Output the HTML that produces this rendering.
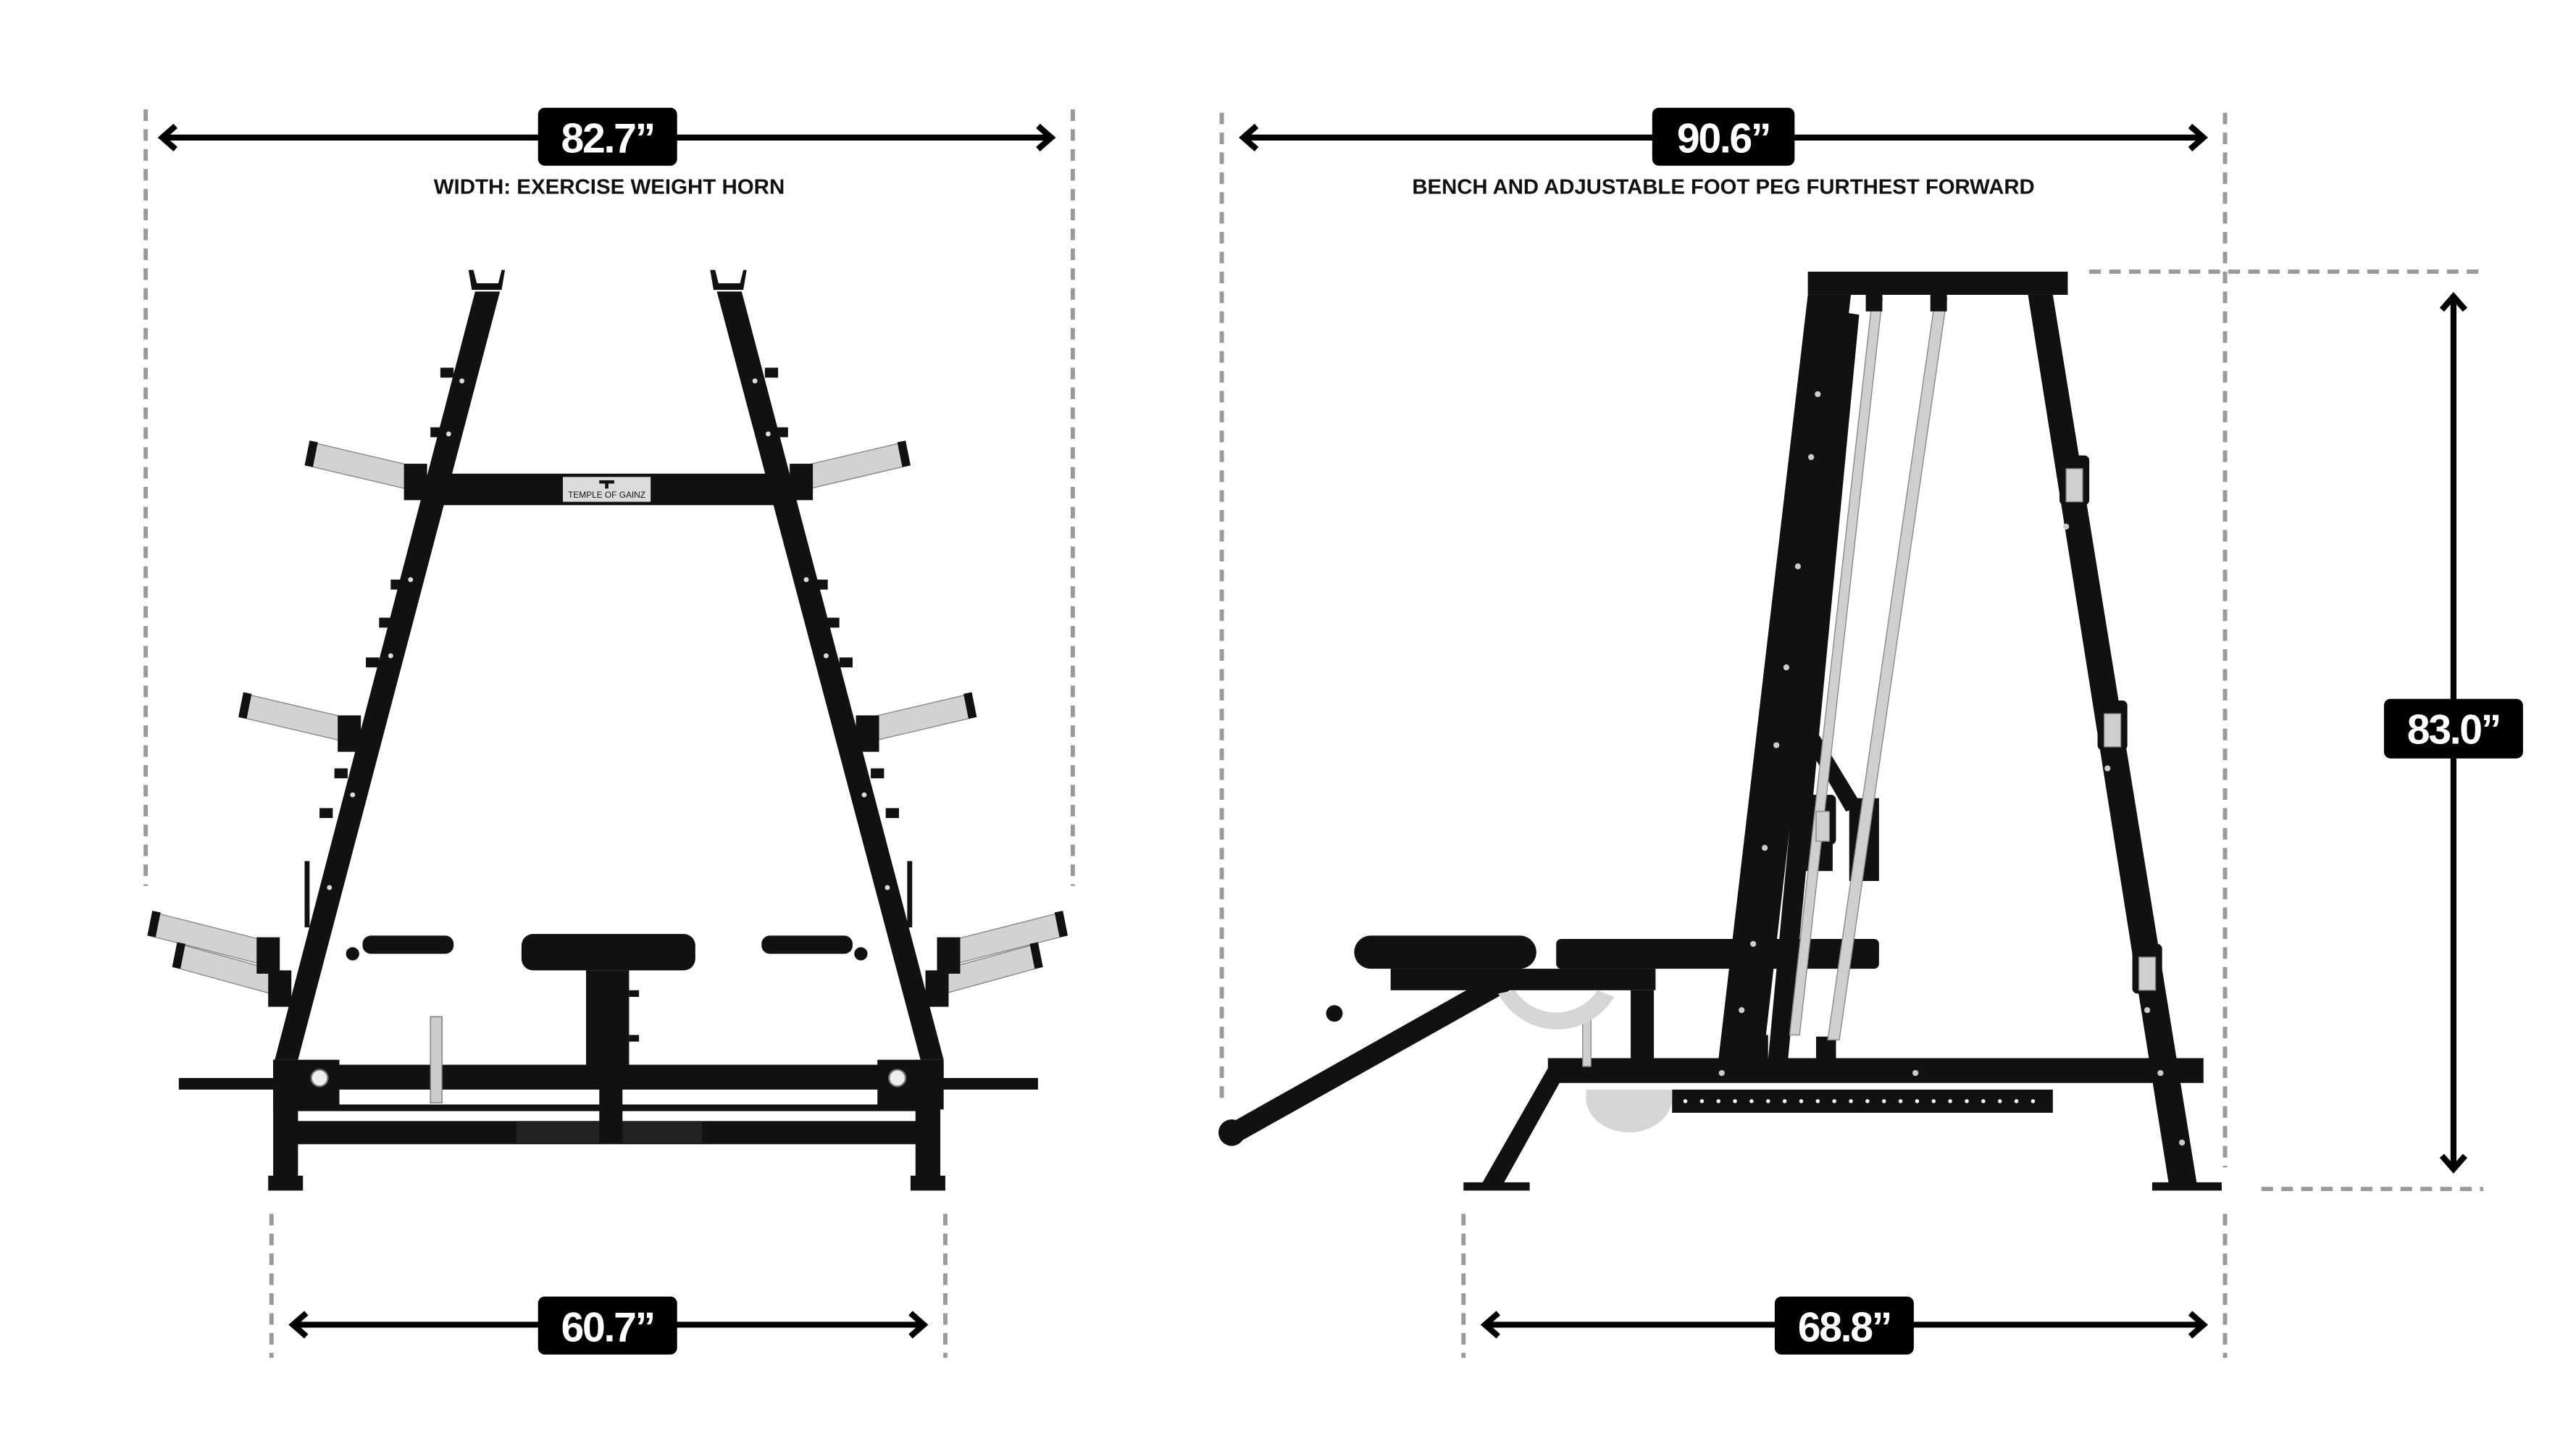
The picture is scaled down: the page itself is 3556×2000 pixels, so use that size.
<!DOCTYPE html>
<html><head><meta charset="utf-8"><style>
html,body{margin:0;padding:0;background:#fff;}
svg{display:block;}
.t{font-family:"Liberation Sans",sans-serif;font-weight:bold;}
</style></head><body>
<svg width="3556" height="2000" viewBox="0 0 1556 875" xmlns="http://www.w3.org/2000/svg">
<rect width="1556" height="875" fill="#fff"/>
<g stroke="#9a9a9a" stroke-width="2.6" stroke-dasharray="7 5" fill="none">
<line x1="88" y1="66" x2="88" y2="535"/>
<line x1="648" y1="66" x2="648" y2="535"/>
<line x1="164" y1="733" x2="164" y2="820"/>
<line x1="571" y1="733" x2="571" y2="820"/>
<line x1="738" y1="68" x2="738" y2="668"/>
<line x1="1344" y1="68" x2="1344" y2="705"/>
<line x1="884" y1="733" x2="884" y2="820"/>
<line x1="1344" y1="733" x2="1344" y2="820"/>
<line x1="1262" y1="164" x2="1500" y2="164"/>
<line x1="1366" y1="718" x2="1500" y2="718"/>
</g>
<g stroke="#000" stroke-width="3.6" fill="none" stroke-linecap="butt">
<line x1="98" y1="83" x2="635" y2="83"/>
<polyline points="106,76 98,83 106,90"/><polyline points="627,76 635,83 627,90"/>
<line x1="177" y1="800" x2="558" y2="800"/>
<polyline points="185,793 177,800 185,807"/><polyline points="550,793 558,800 550,807"/>
<line x1="751" y1="83" x2="1331" y2="83"/>
<polyline points="759,76 751,83 759,90"/><polyline points="1323,76 1331,83 1323,90"/>
<line x1="897" y1="800" x2="1331" y2="800"/>
<polyline points="905,793 897,800 905,807"/><polyline points="1323,793 1331,800 1323,807"/>
<line x1="1482" y1="179" x2="1482" y2="706"/>
<polyline points="1475,187 1482,179 1489,187"/><polyline points="1475,698 1482,706 1489,698"/>
</g>
<g fill="#000">
<rect x="325" y="65" width="84" height="35" rx="4"/>
<rect x="325" y="783" width="84" height="35" rx="4"/>
<rect x="998" y="65" width="86" height="35" rx="4"/>
<rect x="1072" y="783" width="84" height="35" rx="4"/>
<rect x="1440" y="422" width="84" height="36" rx="4"/>
</g>
<g class="t" fill="#fff" font-size="25" text-anchor="middle" letter-spacing="-1">
<text x="367" y="92">82.7”</text>
<text x="367" y="810">60.7”</text>
<text x="1041" y="92">90.6”</text>
<text x="1114" y="810">68.8”</text>
<text x="1482" y="449">83.0”</text>
</g>
<g class="t" fill="#111" font-size="12.5" text-anchor="middle">
<text x="368" y="117" textLength="212" lengthAdjust="spacingAndGlyphs">WIDTH: EXERCISE WEIGHT HORN</text>
<text x="1041" y="117" textLength="376" lengthAdjust="spacingAndGlyphs">BENCH AND ADJUSTABLE FOOT PEG FURTHEST FORWARD</text>
</g>

<!-- LEFT MACHINE -->
<g>
<!-- horns light -->
<g fill="#d2d2d2" stroke="#888" stroke-width="0.6">
<polygon points="188,267 252,282 249,296 185,281"/>
<polygon points="546,267 482,282 485,296 549,281"/>
<polygon points="148,419 212,434 209,448 145,433"/>
<polygon points="586,419 522,434 525,448 589,433"/>
<polygon points="93,551 160,568 157,582 90,565"/>
<polygon points="108,570 170,587 167,601 105,584"/>
<polygon points="641,551 574,568 577,582 644,565"/>
<polygon points="626,570 564,587 567,601 629,584"/>
</g>
<g fill="#111">
<polygon points="187,266 192,267 189,282 184,281"/>
<polygon points="547,266 542,267 545,282 550,281"/>
<polygon points="147,418 152,419 149,434 144,433"/>
<polygon points="587,418 582,419 585,434 590,433"/>
<polygon points="92,550 97,551 94,566 89,565"/>
<polygon points="107,569 112,570 109,585 104,584"/>
<polygon points="642,550 637,551 640,566 645,565"/>
<polygon points="627,569 622,570 625,585 630,584"/>
<!-- horn collars -->
<rect x="244" y="280" width="14" height="22"/><rect x="477" y="280" width="14" height="22"/>
<rect x="204" y="432" width="14" height="22"/><rect x="517" y="432" width="14" height="22"/>
<rect x="155" y="566" width="14" height="22"/><rect x="566" y="566" width="14" height="22"/>
<rect x="162" y="586" width="14" height="22"/><rect x="559" y="586" width="14" height="22"/>
<!-- rails -->
<polygon points="287,176 302,176 180,640 166,640"/>
<polygon points="433,176 448,176 570,640 556,640"/>
<!-- top caps -->
<path d="M286,163 L288,171 L301,171 L303,163 L305,163 L303,175 L285,175 L283,163Z"/>
<path d="M432,163 L434,171 L447,171 L449,163 L451,163 L449,175 L431,175 L429,163Z"/>
<!-- crossbar -->
<rect x="268" y="286" width="200" height="19"/>
<!-- pegs -->
<rect x="266" y="222" width="8" height="6"/><rect x="260" y="258" width="8" height="6"/>
<rect x="236" y="350" width="8" height="6"/><rect x="229" y="373" width="8" height="6"/>
<rect x="221" y="397" width="8" height="6"/><rect x="202" y="464" width="8" height="6"/>
<rect x="193" y="488" width="8" height="6"/>
<rect x="462" y="222" width="8" height="6"/><rect x="468" y="258" width="8" height="6"/>
<rect x="492" y="350" width="8" height="6"/><rect x="499" y="373" width="8" height="6"/>
<rect x="507" y="397" width="8" height="6"/><rect x="526" y="464" width="8" height="6"/>
<rect x="535" y="488" width="8" height="6"/>
<rect x="184" y="520" width="3" height="40"/><rect x="548" y="520" width="3" height="40"/>
<!-- handles -->
<rect x="219" y="565" width="55" height="11" rx="5"/>
<rect x="460" y="565" width="55" height="11" rx="5"/>
<circle cx="213" cy="576" r="4"/><circle cx="520" cy="576" r="4"/>
<!-- seat -->
<rect x="315" y="564" width="105" height="22" rx="7"/>
<rect x="354" y="586" width="26" height="60"/>
<rect x="380" y="598" width="6" height="4"/><rect x="380" y="625" width="6" height="4"/>
<!-- base -->
<rect x="108" y="651" width="519" height="7"/>
<rect x="165" y="643" width="405" height="14"/>
<rect x="165" y="640" width="40" height="30"/>
<rect x="530" y="640" width="40" height="30"/>
<rect x="180" y="667" width="375" height="4"/>
<rect x="172" y="677" width="390" height="14"/>
<rect x="165" y="640" width="15" height="78"/>
<rect x="553" y="640" width="15" height="78"/>
<rect x="162" y="710" width="21" height="9"/>
<rect x="550" y="710" width="21" height="9"/>
<rect x="362" y="645" width="14" height="45"/>
</g>
<rect x="340" y="288" width="53" height="15" fill="#dcdcdc"/>
<text x="366.5" y="300.5" font-family="Liberation Sans,sans-serif" font-size="5.2" text-anchor="middle" fill="#111">TEMPLE OF GAINZ</text>
<rect x="362" y="290" width="9" height="2" fill="#111"/><rect x="365.5" y="290" width="2" height="5" fill="#111"/>
<rect x="260" y="614" width="7" height="52" fill="#ccc" stroke="#777" stroke-width="0.6"/>
<circle cx="193" cy="651" r="5" fill="#eee" stroke="#777" stroke-width="1"/>
<circle cx="542" cy="651" r="5" fill="#eee" stroke="#777" stroke-width="1"/>
<rect x="312" y="677" width="50" height="13" fill="#222"/><rect x="376" y="677" width="48" height="13" fill="#222"/>
<g fill="#ddd">
<circle cx="279" cy="230" r="1.5"/><circle cx="271" cy="262" r="1.5"/><circle cx="248" cy="350" r="1.5"/><circle cx="236" cy="396" r="1.5"/><circle cx="213" cy="480" r="1.5"/><circle cx="199" cy="536" r="1.5"/>
<circle cx="456" cy="230" r="1.5"/><circle cx="464" cy="262" r="1.5"/><circle cx="487" cy="350" r="1.5"/><circle cx="499" cy="396" r="1.5"/><circle cx="522" cy="480" r="1.5"/><circle cx="536" cy="536" r="1.5"/>
</g>
</g>

<!-- RIGHT MACHINE -->
<g>
<g fill="#111">
<rect x="1092" y="164" width="157" height="14"/>
<polygon points="1092,178 1118,178 1065,640 1038,640"/>
<polygon points="1110,188 1123,190 1080,640 1068,640"/>
<polygon points="1225,178 1240,178 1327,715 1310,715"/>
<!-- carriage -->
<rect x="1083" y="480" width="24" height="46"/>
<rect x="1117" y="482" width="18" height="50"/>
<polygon points="1086,440 1094,436 1125,487 1115,490"/>
<!-- base beam -->
<rect x="935" y="639" width="396" height="15"/>
<polygon points="935,645 947,645 908,715 895,715"/>
<rect x="884" y="714" width="40" height="5"/>
<rect x="1300" y="714" width="42" height="5"/>
<rect x="1010" y="658" width="230" height="14"/>
<!-- bench -->
<rect x="940" y="567" width="195" height="18" rx="3"/>
<rect x="818" y="565" width="110" height="20" rx="10"/>
<rect x="840" y="585" width="160" height="13"/>
<rect x="985" y="598" width="14" height="43"/>
<polygon points="900,590 912,598 748,690 740,680"/>
<circle cx="744" cy="684" r="8"/>
<circle cx="806" cy="612" r="5"/>
<rect x="1054" y="625" width="14" height="16"/><rect x="1097" y="626" width="12" height="14"/>
<!-- rear leg pegs -->
<rect x="1244" y="275" width="18" height="30" rx="3"/>
<rect x="1267" y="423" width="18" height="30" rx="3"/>
<rect x="1288" y="570" width="18" height="30" rx="3"/>
<rect x="1093" y="480" width="16" height="30" rx="3"/>
</g>
<g fill="#cfcfcf" stroke="#888" stroke-width="0.6">
<polygon points="1131,180 1137,180 1087,625 1081,625"/>
<polygon points="1169,180 1176,180 1111,628 1104,628"/>
<rect x="1248" y="283" width="10" height="20"/>
<rect x="1271" y="431" width="10" height="20"/>
<rect x="1292" y="578" width="10" height="20"/>
<rect x="1097" y="490" width="8" height="18"/>
<rect x="956" y="614" width="5" height="30"/>
</g>
<rect x="1127" y="174" width="10" height="14" fill="#111"/><rect x="1166" y="174" width="10" height="14" fill="#111"/>
<path d="M905,600 A40,40 0 0 0 975,602 L965,598 A30,30 0 0 1 915,598Z" fill="#d6d6d6"/>
<path d="M958,662 A25,20 0 0 0 1010,664 L1010,658 L958,658Z" fill="#d6d6d6"/>
<g fill="#ccc">
<circle cx="1098" cy="238" r="1.8"/><circle cx="1094" cy="276" r="1.8"/><circle cx="1086" cy="342" r="1.8"/><circle cx="1079" cy="403" r="1.8"/><circle cx="1073" cy="450" r="1.8"/><circle cx="1066" cy="512" r="1.8"/><circle cx="1059" cy="570" r="1.8"/><circle cx="1052" cy="610" r="1.8"/>
<circle cx="1040" cy="648" r="1.8"/><circle cx="1157" cy="648" r="1.8"/><circle cx="1305" cy="648" r="1.8"/>
<circle cx="1248" cy="318" r="1.8"/><circle cx="1273" cy="464" r="1.8"/><circle cx="1297" cy="610" r="1.8"/><circle cx="1318" cy="690" r="1.8"/>
</g>
<g fill="#fff">
<circle cx="1018" cy="665" r="1.2"/><circle cx="1028" cy="665" r="1.2"/><circle cx="1038" cy="665" r="1.2"/><circle cx="1048" cy="665" r="1.2"/><circle cx="1058" cy="665" r="1.2"/><circle cx="1068" cy="665" r="1.2"/><circle cx="1078" cy="665" r="1.2"/><circle cx="1088" cy="665" r="1.2"/><circle cx="1098" cy="665" r="1.2"/><circle cx="1108" cy="665" r="1.2"/><circle cx="1118" cy="665" r="1.2"/><circle cx="1128" cy="665" r="1.2"/><circle cx="1138" cy="665" r="1.2"/><circle cx="1148" cy="665" r="1.2"/><circle cx="1158" cy="665" r="1.2"/><circle cx="1168" cy="665" r="1.2"/><circle cx="1178" cy="665" r="1.2"/><circle cx="1188" cy="665" r="1.2"/><circle cx="1198" cy="665" r="1.2"/><circle cx="1208" cy="665" r="1.2"/><circle cx="1218" cy="665" r="1.2"/><circle cx="1228" cy="665" r="1.2"/>
</g>
</g>
</svg>
</body></html>
